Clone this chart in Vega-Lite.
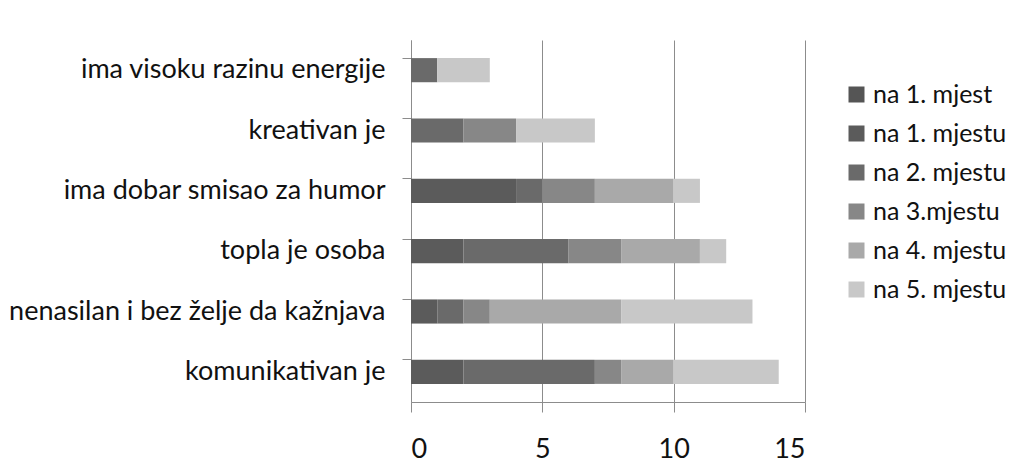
{
  "$schema": "https://vega.github.io/schema/vega-lite/v6.json",
  "width": 394,
  "height": 362,
  "padding": {"left": 8, "top": 40, "right": 5, "bottom": 5},
  "background": "white",
  "config": {
    "view": {"stroke": null},
    "font": "Lato"
  },
  "data": {
    "values": [
      {"osobina": "ima visoku razinu energije", "mjesto": "na 2. mjestu", "o": 3, "broj": 1},
      {"osobina": "ima visoku razinu energije", "mjesto": "na 5. mjestu", "o": 6, "broj": 2},
      {"osobina": "kreativan je", "mjesto": "na 2. mjestu", "o": 3, "broj": 2},
      {"osobina": "kreativan je", "mjesto": "na 3.mjestu", "o": 4, "broj": 2},
      {"osobina": "kreativan je", "mjesto": "na 5. mjestu", "o": 6, "broj": 3},
      {"osobina": "ima dobar smisao za humor", "mjesto": "na 1. mjestu", "o": 2, "broj": 4},
      {"osobina": "ima dobar smisao za humor", "mjesto": "na 2. mjestu", "o": 3, "broj": 1},
      {"osobina": "ima dobar smisao za humor", "mjesto": "na 3.mjestu", "o": 4, "broj": 2},
      {"osobina": "ima dobar smisao za humor", "mjesto": "na 4. mjestu", "o": 5, "broj": 3},
      {"osobina": "ima dobar smisao za humor", "mjesto": "na 5. mjestu", "o": 6, "broj": 1},
      {"osobina": "topla je osoba", "mjesto": "na 1. mjestu", "o": 2, "broj": 2},
      {"osobina": "topla je osoba", "mjesto": "na 2. mjestu", "o": 3, "broj": 4},
      {"osobina": "topla je osoba", "mjesto": "na 3.mjestu", "o": 4, "broj": 2},
      {"osobina": "topla je osoba", "mjesto": "na 4. mjestu", "o": 5, "broj": 3},
      {"osobina": "topla je osoba", "mjesto": "na 5. mjestu", "o": 6, "broj": 1},
      {"osobina": "nenasilan i bez želje da kažnjava", "mjesto": "na 1. mjestu", "o": 2, "broj": 1},
      {"osobina": "nenasilan i bez želje da kažnjava", "mjesto": "na 2. mjestu", "o": 3, "broj": 1},
      {"osobina": "nenasilan i bez želje da kažnjava", "mjesto": "na 3.mjestu", "o": 4, "broj": 1},
      {"osobina": "nenasilan i bez želje da kažnjava", "mjesto": "na 4. mjestu", "o": 5, "broj": 5},
      {"osobina": "nenasilan i bez želje da kažnjava", "mjesto": "na 5. mjestu", "o": 6, "broj": 5},
      {"osobina": "komunikativan je", "mjesto": "na 1. mjestu", "o": 2, "broj": 2},
      {"osobina": "komunikativan je", "mjesto": "na 2. mjestu", "o": 3, "broj": 5},
      {"osobina": "komunikativan je", "mjesto": "na 3.mjestu", "o": 4, "broj": 1},
      {"osobina": "komunikativan je", "mjesto": "na 4. mjestu", "o": 5, "broj": 2},
      {"osobina": "komunikativan je", "mjesto": "na 5. mjestu", "o": 6, "broj": 4}
    ]
  },
  "mark": {"type": "bar"},
  "encoding": {
    "y": {
      "field": "osobina",
      "type": "nominal",
      "sort": ["ima visoku razinu energije", "kreativan je", "ima dobar smisao za humor", "topla je osoba", "nenasilan i bez želje da kažnjava", "komunikativan je"],
      "scale": {"paddingInner": 0.6, "paddingOuter": 0.3},
      "axis": {
        "title": null,
        "bandPosition": 0,
        "domainColor": "#8c8c8c",
        "tickColor": "#8c8c8c",
        "tickSize": 9,
        "labelPadding": 17,
        "labelFontSize": 27,
        "labelColor": "#111111",
        "labelFont": "Lato",
        "labelLimit": 600
      }
    },
    "x": {
      "field": "broj",
      "type": "quantitative",
      "stack": "zero",
      "scale": {"domain": [0, 15], "nice": false},
      "axis": {
        "title": null,
        "values": [0, 5, 10, 15],
        "grid": true,
        "gridColor": "#8c8c8c",
        "domainColor": "#8c8c8c",
        "tickColor": "#8c8c8c",
        "tickSize": 10,
        "labelPadding": 24,
        "labelFontSize": 27,
        "labelColor": "#111111",
        "labelFont": "Lato"
      }
    },
    "color": {
      "field": "mjesto",
      "type": "nominal",
      "scale": {
        "domain": ["na 1. mjest", "na 1. mjestu", "na 2. mjestu", "na 3.mjestu", "na 4. mjestu", "na 5. mjestu"],
        "range": ["#555555", "#5b5b5b", "#6a6a6a", "#878787", "#a9a9a9", "#c8c8c8"]
      },
      "legend": {
        "title": null,
        "orient": "none",
        "legendX": 433,
        "legendY": 42,
        "symbolType": "square",
        "symbolSize": 256,
        "symbolStrokeWidth": 0,
        "labelFontSize": 25,
        "labelFont": "Lato",
        "labelColor": "#111111",
        "labelOffset": 4,
        "rowPadding": 13,
        "padding": 0
      }
    },
    "order": {"field": "o", "type": "quantitative"}
  }
}
